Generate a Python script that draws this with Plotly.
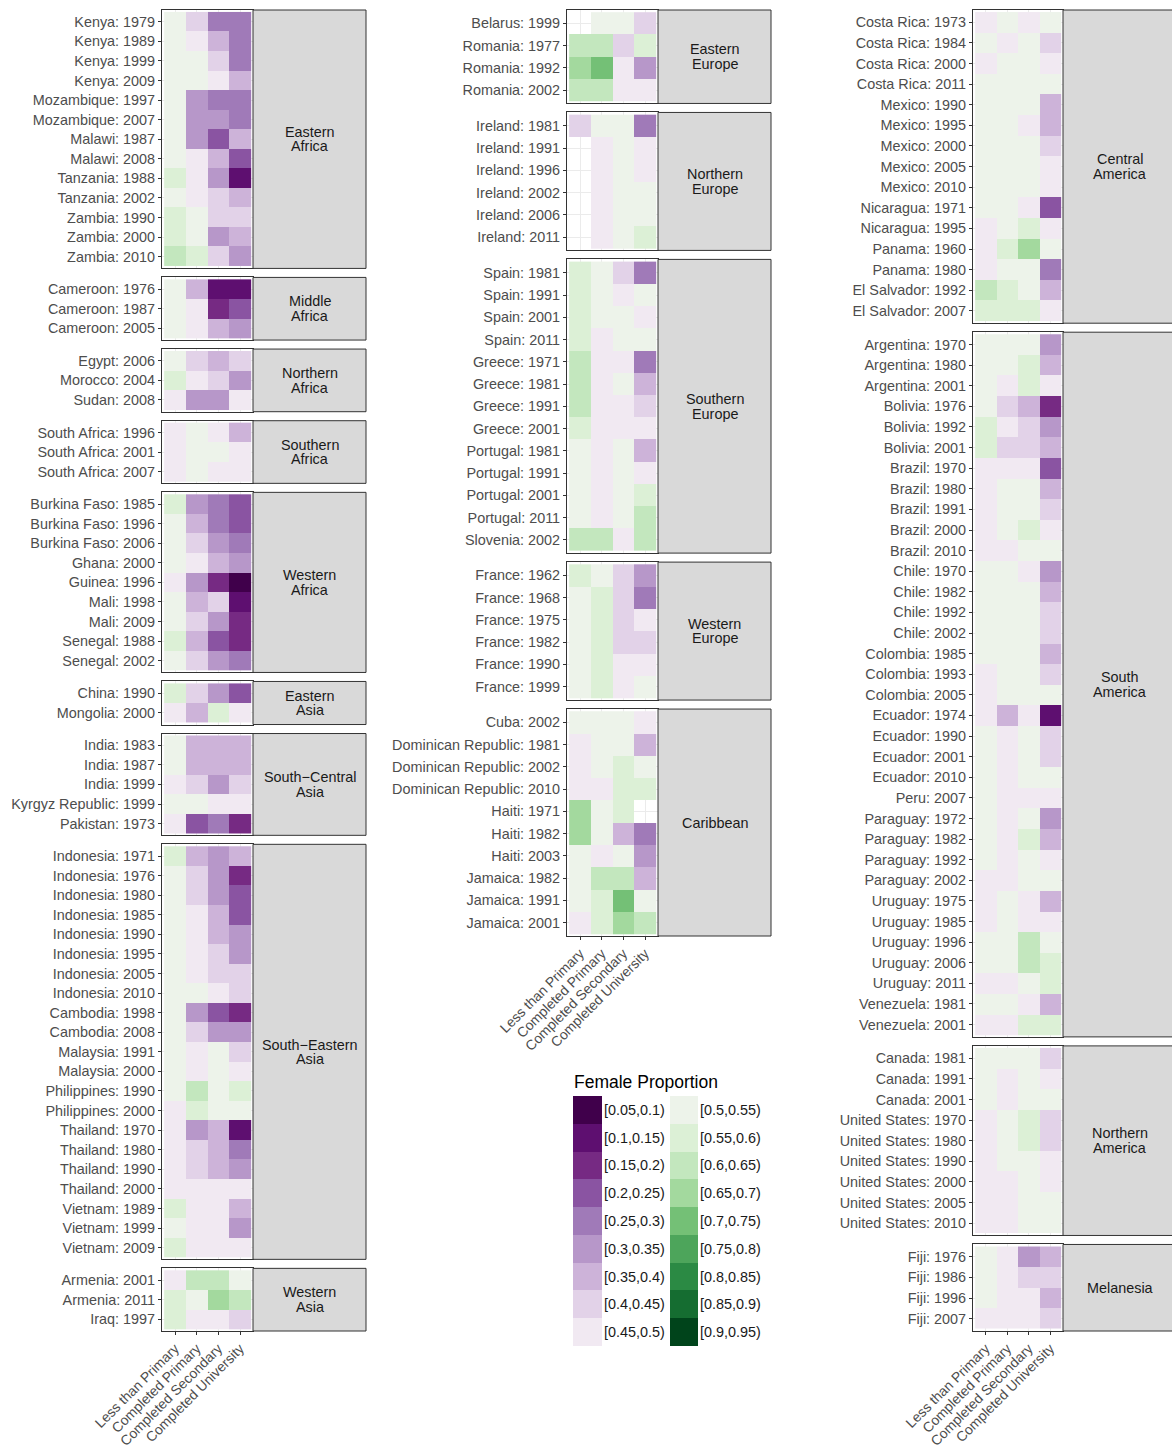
import plotly.graph_objects as go

EDU = ["Less than Primary", "Completed Primary", "Completed Secondary", "Completed University"]

BIN_LABELS = ["[0.05,0.1)", "[0.1,0.15)", "[0.15,0.2)", "[0.2,0.25)", "[0.25,0.3)", "[0.3,0.35)",
              "[0.35,0.4)", "[0.4,0.45)", "[0.45,0.5)", "[0.5,0.55)", "[0.55,0.6)", "[0.6,0.65)",
              "[0.65,0.7)", "[0.7,0.75)", "[0.75,0.8)", "[0.8,0.85)", "[0.85,0.9)", "[0.9,0.95)"]
BIN_MIDS = [0.075, 0.125, 0.175, 0.225, 0.275, 0.325, 0.375, 0.425, 0.475,
            0.525, 0.575, 0.625, 0.675, 0.725, 0.775, 0.825, 0.875, 0.925]
PALETTE = ["#40004B", "#5E0F70", "#762A83", "#8A54A2", "#A07AB8", "#B797C9", "#CDB3D9", "#E2D2E8", "#F1E9F2",
           "#EDF3EA", "#DCF0D6", "#C3E7BE", "#A3D99E", "#74C076", "#4DA55B", "#2B8A44", "#156D31", "#00441B"]

# ---------------- Column 1 ----------------
eastern_africa_rows = ["Kenya: 1979", "Kenya: 1989", "Kenya: 1999", "Kenya: 2009", "Mozambique: 1997",
                       "Mozambique: 2007", "Malawi: 1987", "Malawi: 2008", "Tanzania: 1988", "Tanzania: 2002",
                       "Zambia: 1990", "Zambia: 2000", "Zambia: 2010"]
eastern_africa_vals = [[.52, .42, .27, .27], [.52, .47, .37, .27], [.52, .52, .42, .27], [.52, .52, .47, .37],
                       [.52, .32, .27, .27], [.52, .32, .32, .27], [.52, .32, .22, .37], [.52, .47, .37, .22],
                       [.57, .47, .32, .12], [.52, .47, .42, .37], [.57, .52, .42, .42], [.57, .52, .32, .37],
                       [.62, .57, .42, .32]]
middle_africa_rows = ["Cameroon: 1976", "Cameroon: 1987", "Cameroon: 2005"]
middle_africa_vals = [[.52, .37, .12, .12], [.52, .47, .17, .22], [.52, .47, .37, .32]]
northern_africa_rows = ["Egypt: 2006", "Morocco: 2004", "Sudan: 2008"]
northern_africa_vals = [[.52, .42, .37, .42], [.57, .47, .42, .32], [.47, .32, .32, .47]]
southern_africa_rows = ["South Africa: 1996", "South Africa: 2001", "South Africa: 2007"]
southern_africa_vals = [[.47, .52, .47, .37], [.47, .52, .52, .47], [.47, .52, .47, .47]]
western_africa_rows = ["Burkina Faso: 1985", "Burkina Faso: 1996", "Burkina Faso: 2006", "Ghana: 2000",
                       "Guinea: 1996", "Mali: 1998", "Mali: 2009", "Senegal: 1988", "Senegal: 2002"]
western_africa_vals = [[.57, .32, .27, .22], [.52, .37, .27, .22], [.52, .42, .32, .27], [.52, .47, .37, .32],
                       [.47, .32, .17, .08], [.52, .37, .42, .12], [.52, .42, .32, .17], [.57, .37, .22, .17],
                       [.52, .42, .32, .27]]
eastern_asia_rows = ["China: 1990", "Mongolia: 2000"]
eastern_asia_vals = [[.57, .42, .32, .22], [.47, .37, .57, .47]]
south_central_asia_rows = ["India: 1983", "India: 1987", "India: 1999", "Kyrgyz Republic: 1999", "Pakistan: 1973"]
south_central_asia_vals = [[.52, .37, .37, .37], [.52, .37, .37, .37], [.47, .42, .32, .42],
                           [.52, .52, .47, .47], [.47, .22, .27, .17]]
south_eastern_asia_rows = ["Indonesia: 1971", "Indonesia: 1976", "Indonesia: 1980", "Indonesia: 1985",
                           "Indonesia: 1990", "Indonesia: 1995", "Indonesia: 2005", "Indonesia: 2010",
                           "Cambodia: 1998", "Cambodia: 2008", "Malaysia: 1991", "Malaysia: 2000",
                           "Philippines: 1990", "Philippines: 2000", "Thailand: 1970", "Thailand: 1980",
                           "Thailand: 1990", "Thailand: 2000", "Vietnam: 1989", "Vietnam: 1999", "Vietnam: 2009"]
south_eastern_asia_vals = [[.57, .37, .32, .37], [.52, .42, .32, .17], [.52, .42, .32, .22], [.52, .47, .37, .22],
                           [.52, .47, .37, .32], [.52, .47, .42, .32], [.52, .47, .42, .42], [.52, .52, .47, .42],
                           [.52, .32, .22, .17], [.52, .42, .32, .32], [.52, .47, .52, .42], [.52, .47, .52, .47],
                           [.52, .62, .52, .57], [.47, .57, .52, .52], [.47, .32, .37, .12], [.47, .42, .37, .27],
                           [.47, .42, .37, .32], [.47, .47, .47, .47], [.57, .47, .47, .37], [.52, .47, .47, .32],
                           [.57, .47, .47, .47]]
western_asia_rows = ["Armenia: 2001", "Armenia: 2011", "Iraq: 1997"]
western_asia_vals = [[.47, .62, .62, .52], [.57, .52, .67, .62], [.57, .47, .47, .42]]

# ---------------- Column 2 ----------------
eastern_europe_rows = ["Belarus: 1999", "Romania: 1977", "Romania: 1992", "Romania: 2002"]
eastern_europe_vals = [[None, .52, .52, .42], [.62, .62, .42, .57], [.67, .72, .47, .32], [.62, .62, .47, .47]]
northern_europe_rows = ["Ireland: 1981", "Ireland: 1991", "Ireland: 1996", "Ireland: 2002", "Ireland: 2006",
                        "Ireland: 2011"]
northern_europe_vals = [[.42, .52, .52, .27], [None, .47, .52, .47], [None, .47, .52, .47], [None, .47, .52, .52],
                        [None, .47, .52, .52], [None, .47, .52, .57]]
southern_europe_rows = ["Spain: 1981", "Spain: 1991", "Spain: 2001", "Spain: 2011", "Greece: 1971", "Greece: 1981",
                        "Greece: 1991", "Greece: 2001", "Portugal: 1981", "Portugal: 1991", "Portugal: 2001",
                        "Portugal: 2011", "Slovenia: 2002"]
southern_europe_vals = [[.57, .52, .42, .27], [.57, .52, .47, .52], [.57, .52, .52, .47], [.57, .47, .52, .52],
                        [.62, .47, .47, .27], [.62, .47, .52, .37], [.62, .47, .47, .42], [.57, .47, .47, .47],
                        [.52, .47, .52, .37], [.52, .47, .52, .47], [.52, .47, .52, .57], [.52, .47, .52, .62],
                        [.62, .62, .47, .62]]
western_europe_rows = ["France: 1962", "France: 1968", "France: 1975", "France: 1982", "France: 1990", "France: 1999"]
western_europe_vals = [[.57, .52, .42, .32], [.52, .57, .42, .27], [.52, .57, .42, .47], [.52, .57, .42, .42],
                       [.52, .57, .47, .47], [.52, .57, .47, .52]]
caribbean_rows = ["Cuba: 2002", "Dominican Republic: 1981", "Dominican Republic: 2002", "Dominican Republic: 2010",
                  "Haiti: 1971", "Haiti: 1982", "Haiti: 2003", "Jamaica: 1982", "Jamaica: 1991", "Jamaica: 2001"]
caribbean_vals = [[.52, .52, .52, .47], [.47, .52, .52, .37], [.47, .52, .57, .52], [.47, .47, .57, .57],
                  [.67, .52, .57, None], [.67, .52, .37, .27], [.52, .47, .52, .32], [.52, .62, .62, .37],
                  [.52, .57, .72, .52], [.47, .57, .67, .62]]

# ---------------- Column 3 ----------------
central_america_rows = ["Costa Rica: 1973", "Costa Rica: 1984", "Costa Rica: 2000", "Costa Rica: 2011",
                        "Mexico: 1990", "Mexico: 1995", "Mexico: 2000", "Mexico: 2005", "Mexico: 2010",
                        "Nicaragua: 1971", "Nicaragua: 1995", "Panama: 1960", "Panama: 1980",
                        "El Salvador: 1992", "El Salvador: 2007"]
central_america_vals = [[.47, .52, .47, .52], [.52, .47, .52, .42], [.47, .52, .52, .47], [.52, .52, .52, .52],
                        [.52, .52, .52, .37], [.52, .52, .47, .37], [.52, .52, .52, .42], [.52, .52, .52, .47],
                        [.52, .52, .52, .47], [.52, .52, .47, .22], [.47, .52, .57, .47], [.47, .57, .67, .52],
                        [.47, .52, .52, .27], [.62, .57, .52, .37], [.57, .57, .57, .47]]
south_america_rows = ["Argentina: 1970", "Argentina: 1980", "Argentina: 2001", "Bolivia: 1976", "Bolivia: 1992",
                      "Bolivia: 2001", "Brazil: 1970", "Brazil: 1980", "Brazil: 1991", "Brazil: 2000",
                      "Brazil: 2010", "Chile: 1970", "Chile: 1982", "Chile: 1992", "Chile: 2002",
                      "Colombia: 1985", "Colombia: 1993", "Colombia: 2005", "Ecuador: 1974", "Ecuador: 1990",
                      "Ecuador: 2001", "Ecuador: 2010", "Peru: 2007", "Paraguay: 1972", "Paraguay: 1982",
                      "Paraguay: 1992", "Paraguay: 2002", "Uruguay: 1975", "Uruguay: 1985", "Uruguay: 1996",
                      "Uruguay: 2006", "Uruguay: 2011", "Venezuela: 1981", "Venezuela: 2001"]
south_america_vals = [[.52, .52, .52, .32], [.52, .52, .57, .37], [.52, .47, .57, .47], [.52, .42, .37, .17],
                      [.57, .47, .42, .32], [.57, .42, .42, .37], [.47, .47, .47, .22], [.47, .52, .52, .37],
                      [.47, .52, .52, .42], [.47, .52, .57, .47], [.47, .47, .52, .52], [.52, .52, .47, .32],
                      [.52, .52, .52, .37], [.52, .52, .52, .42], [.52, .52, .52, .42], [.52, .52, .52, .37],
                      [.47, .52, .52, .42], [.47, .52, .52, .52], [.47, .37, .47, .12], [.52, .47, .52, .42],
                      [.52, .47, .52, .42], [.52, .47, .52, .52], [.52, .47, .47, .47], [.52, .47, .52, .32],
                      [.52, .47, .57, .37], [.52, .47, .52, .47], [.47, .47, .52, .52], [.47, .52, .47, .37],
                      [.47, .52, .47, .47], [.52, .52, .62, .52], [.52, .52, .62, .57], [.47, .47, .52, .57],
                      [.52, .52, .47, .37], [.47, .47, .57, .57]]
northern_america_rows = ["Canada: 1981", "Canada: 1991", "Canada: 2001", "United States: 1970",
                         "United States: 1980", "United States: 1990", "United States: 2000",
                         "United States: 2005", "United States: 2010"]
northern_america_vals = [[.52, .52, .52, .42], [.52, .47, .52, .47], [.52, .47, .52, .52], [.47, .52, .57, .42],
                         [.47, .52, .57, .42], [.47, .52, .52, .47], [.47, .47, .52, .47], [.47, .47, .52, .52],
                         [.47, .47, .52, .52]]
melanesia_rows = ["Fiji: 1976", "Fiji: 1986", "Fiji: 1996", "Fiji: 2007"]
melanesia_vals = [[.52, .47, .32, .37], [.52, .47, .42, .42], [.52, .47, .47, .37], [.47, .47, .47, .42]]

COLUMNS = [
    dict(x0=162, x1=253, top=10, bottom=1331, panels=[
        (["Eastern", "Africa"], eastern_africa_rows, eastern_africa_vals),
        (["Middle", "Africa"], middle_africa_rows, middle_africa_vals),
        (["Northern", "Africa"], northern_africa_rows, northern_africa_vals),
        (["Southern", "Africa"], southern_africa_rows, southern_africa_vals),
        (["Western", "Africa"], western_africa_rows, western_africa_vals),
        (["Eastern", "Asia"], eastern_asia_rows, eastern_asia_vals),
        (["South\u2212Central", "Asia"], south_central_asia_rows, south_central_asia_vals),
        (["South\u2212Eastern", "Asia"], south_eastern_asia_rows, south_eastern_asia_vals),
        (["Western", "Asia"], western_asia_rows, western_asia_vals),
    ]),
    dict(x0=567, x1=658, top=10, bottom=936, panels=[
        (["Eastern", "Europe"], eastern_europe_rows, eastern_europe_vals),
        (["Northern", "Europe"], northern_europe_rows, northern_europe_vals),
        (["Southern", "Europe"], southern_europe_rows, southern_europe_vals),
        (["Western", "Europe"], western_europe_rows, western_europe_vals),
        (["Caribbean"], caribbean_rows, caribbean_vals),
    ]),
    dict(x0=973, x1=1063, top=10, bottom=1331, panels=[
        (["Central", "America"], central_america_rows, central_america_vals),
        (["South", "America"], south_america_rows, south_america_vals),
        (["Northern", "America"], northern_america_rows, northern_america_vals),
        (["Melanesia"], melanesia_rows, melanesia_vals),
    ]),
]

W, H = 1172, 1449
GAP = 9.0
EXP = 0.1          # extra discrete-scale padding (in category units) on each side
STRIP_W = 113
STRIP_LINE = 14.5  # strip text line spacing (px)
FONT = "Liberation Sans, Arial, sans-serif"
FS = 14.4
FS_X = 13.9
TICK_COL = "#4D4D4D"
LINE_COL = "#333333"

# discrete colorscale over 18 bins between 0.05 and 0.95
ZMIN, ZMAX = 0.05, 0.95
nb = len(PALETTE)
colorscale = []
for k, c in enumerate(PALETTE):
    colorscale.append([k / nb, c])
    colorscale.append([(k + 1) / nb, c])

fig = go.Figure()
shapes = []
annotations = []
layout_axes = {}


def px_x(p):
    return p / W


def px_y(p):
    return 1 - p / H


idx = 0
for col in COLUMNS:
    npan = len(col["panels"])
    units = sum(len(r) + 2 * EXP for _, r, _ in col["panels"])
    row_h = (col["bottom"] - col["top"] - GAP * (npan - 1)) / units
    y = col["top"]
    for pi, (label, rows, vals) in enumerate(col["panels"]):
        idx += 1
        n = len(rows)
        y0, y1 = y, y + (n + 2 * EXP) * row_h
        y = y1 + GAP
        last = pi == npan - 1
        xs = "x" if idx == 1 else f"x{idx}"
        ys = "y" if idx == 1 else f"y{idx}"
        fig.add_trace(go.Heatmap(
            z=vals, x=EDU, y=rows, xaxis=xs, yaxis=ys,
            colorscale=colorscale, zmin=ZMIN, zmax=ZMAX, showscale=False,
            hoverongaps=False, xgap=0, ygap=0,
        ))
        xkey = "xaxis" if idx == 1 else f"xaxis{idx}"
        ykey = "yaxis" if idx == 1 else f"yaxis{idx}"
        layout_axes[xkey] = dict(
            domain=[px_x(col["x0"]), px_x(col["x1"])], anchor=ys, automargin=False,
            type="category", categoryorder="array", categoryarray=EDU,
            range=[-0.5 - EXP, 3.5 + EXP], showgrid=True, gridcolor="#EBEBEB", gridwidth=1, zeroline=False,
            showline=True, mirror=True, linecolor=LINE_COL, linewidth=1,
            ticks="outside" if last else "", ticklen=3, tickcolor=LINE_COL,
            showticklabels=last, tickangle=-45,
            tickfont=dict(family=FONT, size=FS_X, color=TICK_COL),
        )
        layout_axes[ykey] = dict(
            domain=[px_y(y1), px_y(y0)], anchor=xs, automargin=False,
            type="category", categoryorder="array", categoryarray=rows,
            range=[n - 0.5 + EXP, -0.5 - EXP], showgrid=True, gridcolor="#EBEBEB", gridwidth=1,
            zeroline=False, showline=True, mirror=True, linecolor=LINE_COL, linewidth=1,
            ticks="outside", ticklen=3, tickcolor=LINE_COL,
            tickfont=dict(family=FONT, size=FS, color=TICK_COL),
        )
        # strip on the right
        shapes.append(dict(type="rect", xref="paper", yref="paper",
                           x0=px_x(col["x1"]), x1=px_x(col["x1"] + STRIP_W),
                           y0=px_y(y1), y1=px_y(y0),
                           fillcolor="#D9D9D9", line=dict(color=LINE_COL, width=1), layer="above"))
        cy = (y0 + y1) / 2
        nl = len(label)
        for li, line in enumerate(label):
            ly = cy + (li - (nl - 1) / 2) * STRIP_LINE
            annotations.append(dict(xref="paper", yref="paper",
                                    x=px_x(col["x1"] + STRIP_W / 2), y=px_y(ly),
                                    text=line, showarrow=False, xanchor="center", yanchor="middle",
                                    font=dict(family=FONT, size=FS, color="#1A1A1A")))

# ---------------- Legend ----------------
LEG_TOP, LEG_BOT = 1096, 1346
leg_cols = [(573, 602, 0, 9), (670, 698, 9, 18)]
for lx0, lx1, a, b in leg_cols:
    idx += 1
    xs, ys = f"x{idx}", f"y{idx}"
    labels = BIN_LABELS[a:b]
    fig.add_trace(go.Heatmap(
        z=[[v] for v in BIN_MIDS[a:b]], x=[0], y=labels, xaxis=xs, yaxis=ys,
        colorscale=colorscale, zmin=ZMIN, zmax=ZMAX, showscale=False, hoverinfo="skip",
    ))
    layout_axes[f"xaxis{idx}"] = dict(domain=[px_x(lx0), px_x(lx1)], anchor=ys, visible=False,
                                      range=[-0.5, 0.5], automargin=False)
    layout_axes[f"yaxis{idx}"] = dict(domain=[px_y(LEG_BOT), px_y(LEG_TOP)], anchor=xs, visible=False,
                                      type="category", categoryorder="array", categoryarray=labels,
                                      range=[len(labels) - 0.5, -0.5], automargin=False)
    for lab in labels:
        annotations.append(dict(xref=xs, yref=ys, x=0.5, y=lab, text=lab, showarrow=False,
                                xanchor="left", yanchor="middle", xshift=0,
                                font=dict(family=FONT, size=FS, color="#1A1A1A")))

annotations.append(dict(xref="paper", yref="paper", x=px_x(572), y=px_y(1082),
                        text="Female Proportion", showarrow=False, xanchor="left", yanchor="middle",
                        font=dict(family=FONT, size=17.5, color="#000000")))

fig.update_layout(
    template="none",
    width=W, height=H, margin=dict(l=0, r=0, t=0, b=0, autoexpand=False),
    paper_bgcolor="white", plot_bgcolor="white",
    showlegend=False, shapes=shapes, annotations=annotations,
    font=dict(family=FONT),
    **layout_axes,
)

fig.write_html("out.html", config={"displayModeBar": False},
               post_script="document.body.style.margin='0';")
